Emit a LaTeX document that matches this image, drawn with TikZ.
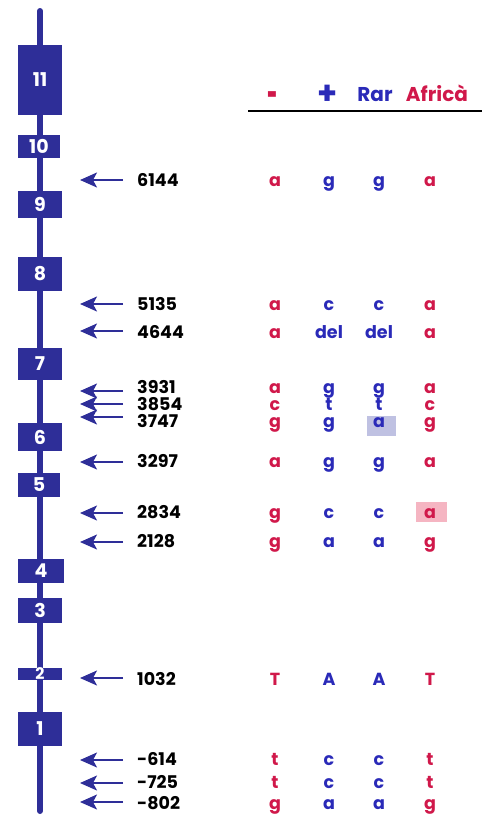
\documentclass[tikz,border=0pt]{standalone}
\usepackage{fontspec}
\setmainfont{Poppins}
\usetikzlibrary{arrows.meta}
\definecolor{exonblue}{HTML}{2E2E98}
\definecolor{txtblue}{HTML}{2A2AB8}
\definecolor{txtred}{HTML}{D0184A}
\definecolor{hlblue}{HTML}{BFC1E2}
\definecolor{hlred}{HTML}{F5B5C2}
\tikzset{
  exon/.style={fill=exonblue, draw=none, inner sep=0pt, minimum width=44pt, text=white, font=\fontsize{19}{19}\selectfont\bfseries},
  spine/.style={exonblue, line width=6pt, line cap=round},
  arr/.style={exonblue, line width=1.8pt, -{Stealth[length=17pt,width=15pt,inset=4pt]}},
  poslbl/.style={anchor=base west, font=\fontsize{17.5}{17.5}\selectfont\bfseries, text=black, inner sep=0pt},
  rd/.style={anchor=base, text=txtred, font=\fontsize{17.5}{17.5}\selectfont\bfseries, inner sep=0pt},
  bl/.style={anchor=base, text=txtblue, font=\fontsize{17.5}{17.5}\selectfont\bfseries, inner sep=0pt},
  hdr/.style={anchor=base, font=\fontsize{20}{20}\selectfont\bfseries, inner sep=0pt}
}
\begin{document}
\begin{tikzpicture}[x=1pt,y=-1pt]
\useasboundingbox (0,0) rectangle (482,817);
% spine
\coordinate (top) at (40,11);
\coordinate (bot) at (40,811);
\draw[spine] (top) -- (bot);
% exons
\node[exon, minimum height=70pt] (e11) at (40,80) {11};
\node[exon, minimum height=23pt, minimum width=42pt] (e10) at (39,146.5) {10};
\node[exon, minimum height=27pt] (e9) at (40,204.5) {9};
\node[exon, minimum height=34pt] (e8) at (40,274) {8};
\node[exon, minimum height=32pt] (e7) at (40,364) {7};
\node[exon, minimum height=28pt] (e6) at (40,437) {6};
\node[exon, minimum height=24pt, minimum width=42pt] (e5) at (39,485) {5};
\node[exon, minimum height=24pt, minimum width=46pt] (e4) at (41,571) {4};
\node[exon, minimum height=25pt] (e3) at (40,610.5) {3};
\node[exon, minimum height=12pt, font=\fontsize{16}{16}\selectfont\bfseries] (e2) at (40,674) {2};
\node[exon, minimum height=34pt] (e1) at (40,729) {1};
% header
\node[hdr, text=txtred] (hminus) at (273,108) {\scalebox{0.9}[2.0]{-}};
\node[hdr, anchor=center, text=txtblue] (hplus) at (328,95) {\scalebox{1.6}{+}};
\node[hdr, text=txtblue] (hrar) at (375,101) {Rar};
\node[hdr, text=txtred] (hafr) at (437,101) {Africà};
\coordinate (hl1) at (248,111);
\coordinate (hl2) at (482,111);
\draw[line width=1.5pt] (hl1) -- (hl2);
% highlights
\node[fill=hlblue, minimum width=29pt, minimum height=20pt, inner sep=0pt] (hb) at (381.5,426) {};
\node[fill=hlred, minimum width=31pt, minimum height=20pt, inner sep=0pt] (hr) at (431.5,512) {};
% rows: name / arrow y / text baseline / columns
\foreach \nm/\y/\bs/\a/\b/\c/\d in {
  6144/180/186/a/g/g/a,
  5135/304/310/a/c/c/a,
  4644/331/338.5/a/del/del/a,
  3931/391/393/a/g/g/a,
  3854/404/410/c/t/t/c,
  3747/417/427/g/g/a/g,
  3297/462/467.5/a/g/g/a,
  2834/513/518/g/c/c/a,
  2128/542/547.5/g/a/a/g,
  1032/678/685/T/A/A/T,
  -614/760/765.5/t/c/c/t,
  -725/783/788.5/t/c/c/t,
  -802/802/809/g/a/a/g} {
  \coordinate (s\nm) at (123,\y);
  \coordinate (t\nm) at (80,\y);
  \draw[arr] (s\nm) -- (t\nm);
  \node[poslbl] (p\nm) at (137,\bs) {\nm};
  \node[rd] (c1\nm) at (275,\bs) {\a};
  \node[bl] (c2\nm) at (329,\bs) {\b};
  \node[bl] (c3\nm) at (379,\bs) {\c};
  \node[rd] (c4\nm) at (430,\bs) {\d};
}
\end{tikzpicture}
\end{document}
